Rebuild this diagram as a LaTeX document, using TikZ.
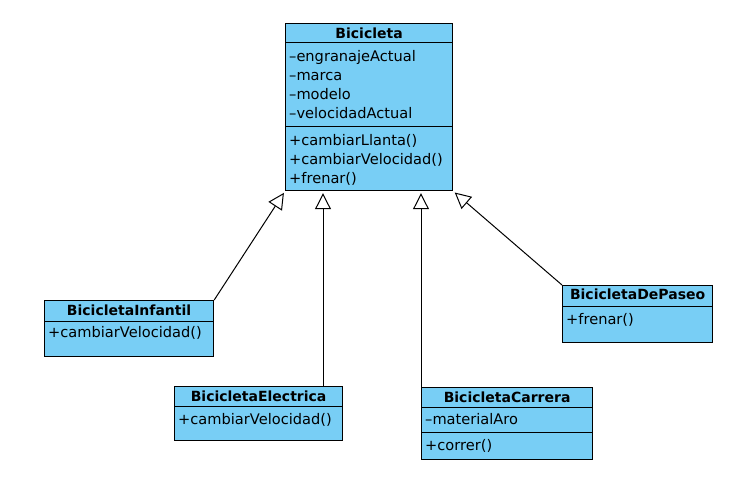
\documentclass[tikz,border=0pt]{standalone}
\usepackage{fontspec}
\setsansfont{DejaVu Sans}
\usepackage{xcolor}
\usetikzlibrary{positioning,arrows.meta}
\definecolor{umlblue}{RGB}{120,206,245}

\tikzset{
  classbox/.style={draw, fill=umlblue, line width=1.2pt, anchor=north west, inner sep=0pt},
  classname/.style={inner sep=0pt, font=\sffamily\bfseries\fontsize{14}{19}\selectfont},
  members/.style={inner sep=0pt, align=left, font=\sffamily\fontsize{14.6}{19.2}\selectfont},
  sepline/.style={line width=1pt},
  inherits/.style={line width=1pt, -{Triangle[open, length=16pt, width=16pt, line width=1pt]}, shorten >=2pt}
}

\begin{document}
\begin{tikzpicture}[x=1pt, y=-1pt]
\useasboundingbox (0,0) rectangle (752,478);

% superclass
\node[classbox, minimum width=167pt, minimum height=167pt] (bici) at (285,23) {};
\node[classname, below=4.4pt of bici.north] (biciname) {Bicicleta};
\draw[sepline] ([yshift=-20pt]bici.north west) -- ([yshift=-20pt]bici.north east);
\draw[sepline] ([yshift=-104pt]bici.north west) -- ([yshift=-104pt]bici.north east);
\node[members, below right=27pt and 4pt of bici.north west] (biciattr)
  {–engranajeActual\\–marca\\–modelo\\–velocidadActual};
\node[members, below right=111pt and 4pt of bici.north west] (bicimeth)
  {+cambiarLlanta()\\+cambiarVelocidad()\\+frenar()};

% subclasses
\node[classbox, minimum width=169pt, minimum height=56pt] (infantil) at (44,300) {};
\node[classname, below=4.4pt of infantil.north] (infantilname) {BicicletaInfantil};
\draw[sepline] ([yshift=-21pt]infantil.north west) -- ([yshift=-21pt]infantil.north east);
\node[members, below right=26pt and 4pt of infantil.north west] (infantilmeth) {+cambiarVelocidad()};

\node[classbox, minimum width=168pt, minimum height=54pt] (electrica) at (174,386) {};
\node[classname, below=4.4pt of electrica.north] (electricaname) {BicicletaElectrica};
\draw[sepline] ([yshift=-20pt]electrica.north west) -- ([yshift=-20pt]electrica.north east);
\node[members, below right=27pt and 4pt of electrica.north west] (electricameth) {+cambiarVelocidad()};

\node[classbox, minimum width=171pt, minimum height=72pt] (carrera) at (421,387) {};
\node[classname, below=4.4pt of carrera.north] (carreraname) {BicicletaCarrera};
\draw[sepline] ([yshift=-20pt]carrera.north west) -- ([yshift=-20pt]carrera.north east);
\draw[sepline] ([yshift=-45pt]carrera.north west) -- ([yshift=-45pt]carrera.north east);
\node[members, below right=26pt and 4pt of carrera.north west] (carreraattr) {–materialAro};
\node[members, below right=52pt and 4pt of carrera.north west] (carrerameth) {+correr()};

\node[classbox, minimum width=150pt, minimum height=57pt] (paseo) at (562,285) {};
\node[classname, below=4pt of paseo.north] (paseoname) {BicicletaDePaseo};
\draw[sepline] ([yshift=-21pt]paseo.north west) -- ([yshift=-21pt]paseo.north east);
\node[members, below right=28pt and 4pt of paseo.north west] (paseometh) {+frenar()};

% generalisations
\draw[inherits] (infantil.north east) -- (bici.south west);
\draw[inherits] (electrica.north -| 323,0) -- (bici.south -| 323,0);
\draw[inherits] (carrera.north west) -- (bici.south -| carrera.north west);
\draw[inherits] (paseo.north west) -- (bici.south east);
\end{tikzpicture}
\end{document}
